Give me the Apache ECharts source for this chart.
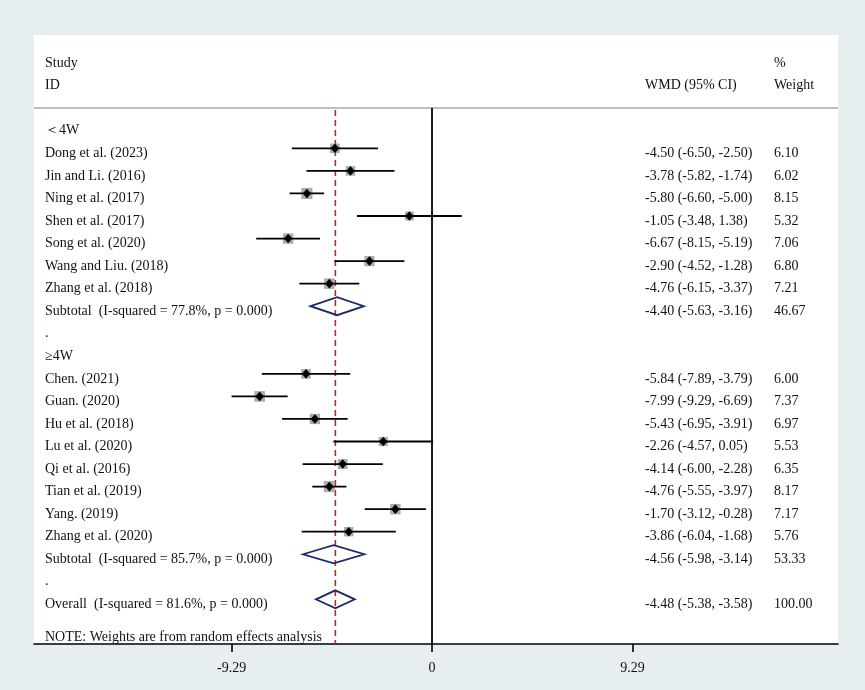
<!DOCTYPE html>
<html>
<head>
<meta charset="utf-8">
<script src="https://cdn.jsdelivr.net/npm/echarts@6/dist/echarts.min.js"></script>
<style>
  html, body { margin: 0; padding: 0; background: #e6eef0; }
  #chart { width: 865px; height: 690px; }
</style>
</head>
<body>
<div id="chart"></div>
<script>
// ---------------- DATA ----------------
const group1Label = '＜4W';
const group1Studies = ['Dong et al. (2023)', 'Jin and Li. (2016)', 'Ning et al. (2017)', 'Shen et al. (2017)', 'Song et al. (2020)', 'Wang and Liu. (2018)', 'Zhang et al. (2018)'];
const group1ES = [-4.50, -3.78, -5.80, -1.05, -6.67, -2.90, -4.76];
const group1Lo = [-6.50, -5.82, -6.60, -3.48, -8.15, -4.52, -6.15];
const group1Hi = [-2.50, -1.74, -5.00, 1.38, -5.19, -1.28, -3.37];
const group1W  = [6.10, 6.02, 8.15, 5.32, 7.06, 6.80, 7.21];
const subtotal1Label = 'Subtotal  (I-squared = 77.8%, p = 0.000)';
const subtotal1 = [-4.40, -5.63, -3.16, 46.67]; // es, lo, hi, weight

const group2Label = '≥4W';
const group2Studies = ['Chen. (2021)', 'Guan. (2020)', 'Hu et al. (2018)', 'Lu et al. (2020)', 'Qi et al. (2016)', 'Tian et al. (2019)', 'Yang. (2019)', 'Zhang et al. (2020)'];
const group2ES = [-5.84, -7.99, -5.43, -2.26, -4.14, -4.76, -1.70, -3.86];
const group2Lo = [-7.89, -9.29, -6.95, -4.57, -6.00, -5.55, -3.12, -6.04];
const group2Hi = [-3.79, -6.69, -3.91, 0.05, -2.28, -3.97, -0.28, -1.68];
const group2W  = [6.00, 7.37, 6.97, 5.53, 6.35, 8.17, 7.17, 5.76];
const subtotal2Label = 'Subtotal  (I-squared = 85.7%, p = 0.000)';
const subtotal2 = [-4.56, -5.98, -3.14, 53.33];

const overallLabel = 'Overall  (I-squared = 81.6%, p = 0.000)';
const overall = [-4.48, -5.38, -3.58, 100.00];

const noteText = 'NOTE: Weights are from random effects analysis';
const headerLeft = ['Study', 'ID'];
const headerEffect = 'WMD (95% CI)';
const headerWeight = ['%', 'Weight'];
const xTicks = [-9.29, 0, 9.29];

// ---------------- LAYOUT (not data) ----------------
const FONT = '"Liberation Serif", "Times New Roman", serif';
const FS = 14;
const COL_LEFT = 11;      // px from grid left
const COL_EFFECT = 611;
const COL_WEIGHT = 740;
const TEXT_DY = 5;        // px, text baseline tweak relative to row
const HEADER_ROW = -0.79;
const NOTE_OFFSET = 0.45;
const BOX_SCALE = 3.9;

// ---------------- BUILD ROWS ----------------
const studyRows = [];   // [row, es, lo, hi, w]
const pooledRows = [];  // [row, es, lo, hi, w]
const textRows = [];    // [row, left, effect, weight]
let r = 0;
textRows.push([r, group1Label, '', '']); r++;
group1Studies.forEach((s, i) => {
  studyRows.push([r, group1ES[i], group1Lo[i], group1Hi[i], group1W[i]]);
  textRows.push([r, s, fmtCI(group1ES[i], group1Lo[i], group1Hi[i]), group1W[i].toFixed(2)]);
  r++;
});
pooledRows.push([r, ...subtotal1]);
textRows.push([r, subtotal1Label, fmtCI(subtotal1[0], subtotal1[1], subtotal1[2]), subtotal1[3].toFixed(2)]); r++;
textRows.push([r, '.', '', '']); r++;
textRows.push([r, group2Label, '', '']); r++;
group2Studies.forEach((s, i) => {
  studyRows.push([r, group2ES[i], group2Lo[i], group2Hi[i], group2W[i]]);
  textRows.push([r, s, fmtCI(group2ES[i], group2Lo[i], group2Hi[i]), group2W[i].toFixed(2)]);
  r++;
});
pooledRows.push([r, ...subtotal2]);
textRows.push([r, subtotal2Label, fmtCI(subtotal2[0], subtotal2[1], subtotal2[2]), subtotal2[3].toFixed(2)]); r++;
textRows.push([r, '.', '', '']); r++;
pooledRows.push([r, ...overall]);
textRows.push([r, overallLabel, fmtCI(overall[0], overall[1], overall[2]), overall[3].toFixed(2)]); r++;
textRows.push([r + NOTE_OFFSET, noteText, '', '']);
textRows.push([-3, headerLeft[0], '', headerWeight[0]]);
textRows.push([-2, headerLeft[1], headerEffect, headerWeight[1]]);

function fmtCI(e, l, h) {
  return e.toFixed(2) + ' (' + l.toFixed(2) + ', ' + h.toFixed(2) + ')';
}

// ---------------- CHART ----------------
const chart = echarts.init(document.getElementById('chart'), null, { renderer: 'canvas' });

function txt(x, y, s) {
  return { type: 'text', style: { x: x, y: y, text: s, fill: '#111', font: FS + 'px ' + FONT, textVerticalAlign: 'middle', textAlign: 'left' } };
}

const option = {
  backgroundColor: '#e6eef0',
  animation: false,
  grid: { left: 34, right: 27, top: 35, bottom: 46, show: true, backgroundColor: '#ffffff', borderWidth: 0 },
  xAxis: {
    type: 'value', min: -18.45, max: 18.82, position: 'bottom',
    axisLine: { show: true, onZero: false, lineStyle: { color: '#000', width: 1.6 } },
    axisTick: { show: true, customValues: xTicks, length: 8, lineStyle: { color: '#000', width: 1.6 } },
    axisLabel: { show: true, customValues: xTicks, margin: 17, color: '#111', fontFamily: FONT, fontSize: FS,
      formatter: v => (v === 0 ? '0' : v.toFixed(2)) },
    splitLine: { show: false }
  },
  yAxis: { type: 'value', inverse: true, min: -4.027, max: 22.98, show: false, splitLine: { show: false } },
  series: [
    {
      // frame: header rule, null line, overall dashed line
      type: 'custom', data: [[overall[0]]], silent: true, z: 1,
      renderItem: (params, api) => {
        const cs = params.coordSys;
        const yh = api.coord([0, HEADER_ROW])[1];
        const yb = cs.y + cs.height;
        const x0 = api.coord([0, 0])[0];
        const xo = api.coord([api.value(0), 0])[0];
        return { type: 'group', children: [
          { type: 'line', shape: { x1: cs.x, y1: yh, x2: cs.x + cs.width, y2: yh }, style: { stroke: '#a8a8a8', lineWidth: 1.6 } },
          { type: 'line', shape: { x1: x0, y1: yh, x2: x0, y2: yb }, style: { stroke: '#000', lineWidth: 1.8 } },
          { type: 'line', shape: { x1: xo, y1: yh + 2, x2: xo, y2: yb }, style: { stroke: '#a8302c', lineWidth: 1.6, lineDash: [6, 4] } }
        ] };
      }
    },
    {
      type: 'custom', data: studyRows, silent: true, z: 3,
      renderItem: (params, api) => {
        const row = api.value(0), es = api.value(1), lo = api.value(2), hi = api.value(3), w = api.value(4);
        const p = api.coord([es, row]), pl = api.coord([lo, row]), ph = api.coord([hi, row]);
        const s = BOX_SCALE * Math.sqrt(w);
        return { type: 'group', children: [
          { type: 'rect', shape: { x: p[0] - s / 2, y: p[1] - s / 2, width: s, height: s }, style: { fill: '#acacac' } },
          { type: 'line', shape: { x1: pl[0], y1: pl[1], x2: ph[0], y2: ph[1] }, style: { stroke: '#000', lineWidth: 1.8 } },
          { type: 'polygon', shape: { points: [[p[0], p[1] - 4.8], [p[0] + 4.2, p[1]], [p[0], p[1] + 4.8], [p[0] - 4.2, p[1]]] }, style: { fill: '#000' } }
        ] };
      }
    },
    {
      type: 'custom', data: pooledRows, silent: true, z: 3,
      renderItem: (params, api) => {
        const row = api.value(0), es = api.value(1), lo = api.value(2), hi = api.value(3);
        const p = api.coord([es, row]), pl = api.coord([lo, row]), ph = api.coord([hi, row]);
        const h = 9;
        return { type: 'polygon', shape: { points: [[pl[0], pl[1]], [p[0], p[1] - h], [ph[0], ph[1]], [p[0], p[1] + h]] },
          style: { fill: 'none', stroke: '#1c2868', lineWidth: 1.8, lineJoin: 'miter' } };
      }
    },
    {
      type: 'custom', data: textRows, silent: true, z: 4,
      dimensions: ['row', 'left', 'effect', 'weight'],
      encode: { y: 0 },
      renderItem: (params, api) => {
        const cs = params.coordSys;
        const d = textRows[params.dataIndex];
        const y = api.coord([0, d[0]])[1] + TEXT_DY;
        const kids = [];
        if (d[1]) kids.push(txt(cs.x + COL_LEFT, y, d[1]));
        if (d[2]) kids.push(txt(cs.x + COL_EFFECT, y, d[2]));
        if (d[3]) kids.push(txt(cs.x + COL_WEIGHT, y, d[3]));
        return { type: 'group', children: kids };
      }
    }
  ]
};
chart.setOption(option);
</script>
</body>
</html>
